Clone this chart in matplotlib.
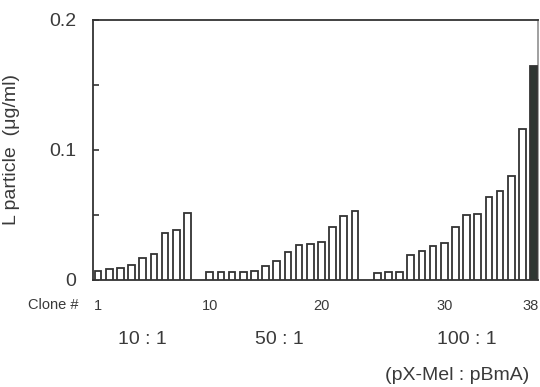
import matplotlib.pyplot as plt
import numpy as np
from matplotlib import transforms

plt.rcParams['font.family'] = ['Liberation Sans', 'DejaVu Sans']

# L particle (ug/ml) per clone
g1 = [0.0068, 0.0079, 0.0091, 0.0112, 0.0163, 0.0194, 0.0356, 0.0382, 0.0510]
g2 = [0.0060, 0.0060, 0.0060, 0.0060, 0.0066, 0.0104, 0.0140, 0.0210,
      0.0264, 0.0276, 0.0287, 0.0402, 0.0489, 0.0530]
g3 = [0.0048, 0.0055, 0.0055, 0.0189, 0.0222, 0.0260, 0.0284, 0.0407,
      0.0497, 0.0502, 0.0633, 0.0684, 0.0798, 0.1162, 0.1648]
groups = [g1, g2, g3]
group_names = ['10 : 1', '50 : 1', '100 : 1']
clone_ticks = [1, 10, 20, 30, 38]

ink = '#333333'
txt = '#3a3a3a'

# slot for each clone: one empty slot between groups
pos = []
vals = []
n = 0
for gi, g in enumerate(groups):
    for v in g:
        pos.append(n + gi)
        vals.append(v)
        n += 1
pos = np.array(pos)

fig = plt.figure(figsize=(5.4, 3.87), dpi=100)
ax = fig.add_axes([93/540, 1 - 279.5/387, 445/540, 259.5/387])

colors = ['white'] * len(vals)
colors[-1] = '#2e3632'
ax.bar(pos, vals, width=0.6, color=colors, edgecolor=ink, linewidth=1.3, zorder=3)

ax.set_xlim(-0.45, 39.4)
ax.set_ylim(0, 0.2)

for s in ax.spines.values():
    s.set_color(ink)
    s.set_linewidth(1.3)
ax.spines['right'].set_color('#999999')

ax.set_yticks([0, 0.1, 0.2])
ax.set_yticklabels(['0', '0.1', '0.2'])
ax.set_yticks([0.05, 0.15], minor=True)
ax.tick_params(axis='y', which='both', direction='in', length=4, width=1.2,
               color=ink, labelsize=14, labelcolor=txt, pad=12)

tick_pos = [pos[c - 1] for c in clone_ticks]
ax.set_xticks(tick_pos)
ax.set_xticklabels([str(c) for c in clone_ticks])
ax.tick_params(axis='x', length=0, labelsize=10.5, labelcolor=txt, pad=14)
# keep the last clone number just inside the right edge
last = ax.get_xticklabels()[-1]
last.set_transform(last.get_transform() +
                   transforms.ScaledTranslation(-3/100, 0, fig.dpi_scale_trans))

ax.set_ylabel('L particle  (\u03bcg/ml)', fontsize=14, color=txt)
ax.yaxis.set_label_coords(-0.165, 0.5)

fig.text(53/540, 1 - 305/387, 'Clone #', fontsize=10.5, color=txt,
         ha='center', va='center')

trans = transforms.blended_transform_factory(ax.transData, fig.transFigure)
centers = [4.0, 16.2, 33.0]
for c, name in zip(centers, group_names):
    ax.text(c, 1 - 340/387, name, transform=trans, fontsize=14, color=txt,
            ha='center', va='center')
fig.text(457/540, 1 - 375/387, '(pX-Mel : pBmA)', fontsize=14, color=txt,
         ha='center', va='center')

fig.savefig('out.png', dpi=100)
